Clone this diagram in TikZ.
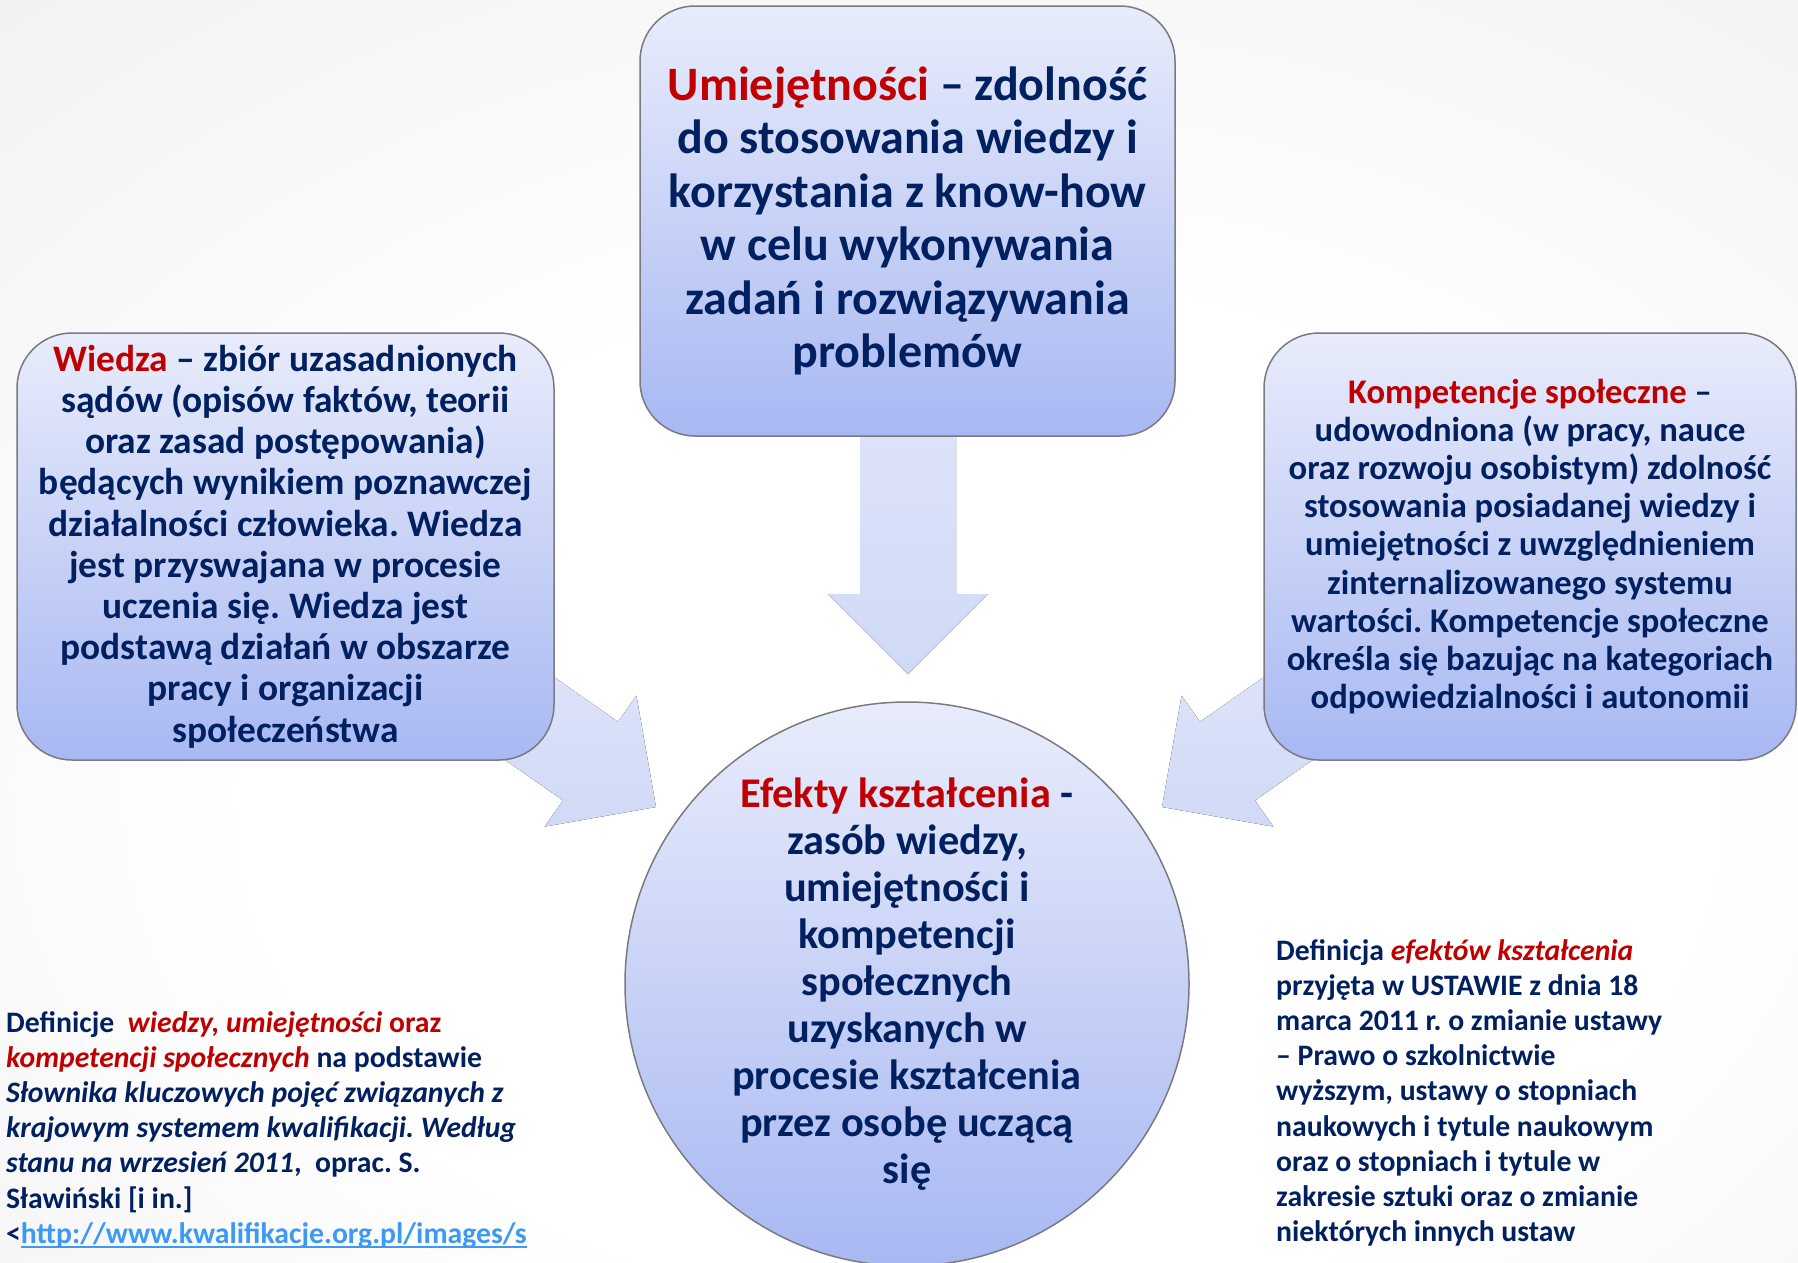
\documentclass[tikz,border=0pt]{standalone}
\usepackage{fontspec}
\setmainfont{Carlito}
\frenchspacing
\definecolor{txtblue}{HTML}{002060}
\definecolor{kred}{HTML}{C00000}
\definecolor{linkblue}{HTML}{3B9AF5}
\definecolor{boxtop}{HTML}{E8ECFB}
\definecolor{boxbot}{HTML}{A8B8F2}
\definecolor{boxline}{HTML}{7A7A80}
\definecolor{arrtop}{HTML}{E3E8FA}
\definecolor{arrbot}{HTML}{D0D9F6}
\definecolor{bgmid}{HTML}{EBEBEB}
\definecolor{bgout}{HTML}{DADADA}
\pgfdeclareradialshading{bgshade}{\pgfpoint{3bp}{-9bp}}{color(0bp)=(white); color(20bp)=(white); color(50bp)=(bgmid); color(80bp)=(bgout)}
\newcommand\ulink[1]{\setbox0=\hbox{#1}\rlap{\rule[-5pt]{\wd0}{2.6pt}}\box0}
\tikzset{
  box/.style={draw=boxline, line width=1.5pt, rounded corners=55pt, top color=boxtop, bottom color=boxbot, inner sep=0pt, align=center, text=txtblue},
  blockarrow/.style={top color=arrtop, bottom color=arrbot, draw=none},
  deftext/.style={anchor=north west, inner sep=0pt, align=left, text=txtblue, font=\fontsize{29.7pt}{35.2pt}\selectfont\bfseries}
}
\begin{document}
\begin{tikzpicture}[x=1pt,y=-1pt]
\useasboundingbox (0,0) rectangle (1798,1262);
\shade[shading=bgshade] (0,0) rectangle (1798,1262);

% block arrows
\coordinate (tipD) at (908,674);
\coordinate (tipL) at (656,807);
\coordinate (tipR) at (1162,807);
\fill[blockarrow] (860,300) -- (860,594) -- (828,594) -- (tipD) -- (988,594) -- (956,594) -- (956,300) -- cycle;
\fill[blockarrow] (437.8,595.5) -- (618.0,721.8) -- (636.4,695.5) -- (tipL) -- (544.6,826.6) -- (563.0,800.4) -- (382.8,674.2) -- cycle;
\fill[blockarrow] (1380.2,595.5) -- (1200,721.8) -- (1181.6,695.5) -- (tipR) -- (1273.4,826.6) -- (1255,800.4) -- (1435.2,674.2) -- cycle;

% boxes
\node[box, minimum width=535pt, minimum height=430pt, font=\fontsize{48pt}{53.5pt}\selectfont\bfseries] (umi) at (907.5,221)
{\textcolor{kred}{Umiejętności} – zdolność\\
do stosowania wiedzy i\\
korzystania z know-how\\
w celu wykonywania\\
zadań i rozwiązywania\\
problemów};

\node[box, minimum width=537pt, minimum height=427pt, font=\fontsize{37.4pt}{41.2pt}\selectfont\bfseries] (wiedza) at (285.5,546.5)
{\textcolor{kred}{Wiedza} – zbiór uzasadnionych\\
sądów (opisów faktów, teorii\\
oraz zasad postępowania)\\
będących wynikiem poznawczej\\
działalności człowieka. Wiedza\\
jest przyswajana w procesie\\
uczenia się. Wiedza jest\\
podstawą działań w obszarze\\
pracy i organizacji\\
społeczeństwa};

\node[box, minimum width=532pt, minimum height=427pt, font=\fontsize{34.6pt}{38.2pt}\selectfont\bfseries] (komp) at (1530,546.5)
{\textcolor{kred}{Kompetencje społeczne} –\\
udowodniona (w pracy, nauce\\
oraz rozwoju osobistym) zdolność\\
stosowania posiadanej wiedzy i\\
umiejętności z uwzględnieniem\\
zinternalizowanego systemu\\
wartości. Kompetencje społeczne\\
określa się bazując na kategoriach\\
odpowiedzialności i autonomii};

\node[circle, draw=boxline, line width=1.5pt, top color=boxtop, bottom color=boxbot, minimum size=564pt, inner sep=-40pt, align=center, text=txtblue, font=\fontsize{42.3pt}{47pt}\selectfont\bfseries] (efekty) at (907,984)
{\textcolor{kred}{Efekty kształcenia} -\\
zasób wiedzy,\\
umiejętności i\\
kompetencji\\
społecznych\\
uzyskanych w\\
procesie kształcenia\\
przez osobę uczącą\\
się};

% definitions
\node[deftext] (defL) at (6,1011)
{Definicje \ \textcolor{kred}{\itshape wiedzy, umiejętności} \textcolor{kred}{oraz}\\
\textcolor{kred}{\itshape kompetencji społecznych} na podstawie\\
\itshape Słownika kluczowych pojęć związanych z\\
\itshape krajowym systemem kwalifikacji. Według\\
\itshape stanu na wrzesień 2011\upshape, \ oprac. S.\\
Sławiński [i in.]\\
<\textcolor{linkblue}{\ulink{http://www.kwalifikacje.org.pl/images/s}}};

\node[deftext] (defR) at (1276,939)
{Definicja \textcolor{kred}{\itshape efektów kształcenia}\\
przyjęta w USTAWIE z dnia 18\\
marca 2011 r. o zmianie ustawy\\
– Prawo o szkolnictwie\\
wyższym, ustawy o stopniach\\
naukowych i tytule naukowym\\
oraz o stopniach i tytule w\\
zakresie sztuki oraz o zmianie\\
niektórych innych ustaw};
\end{tikzpicture}
\end{document}
